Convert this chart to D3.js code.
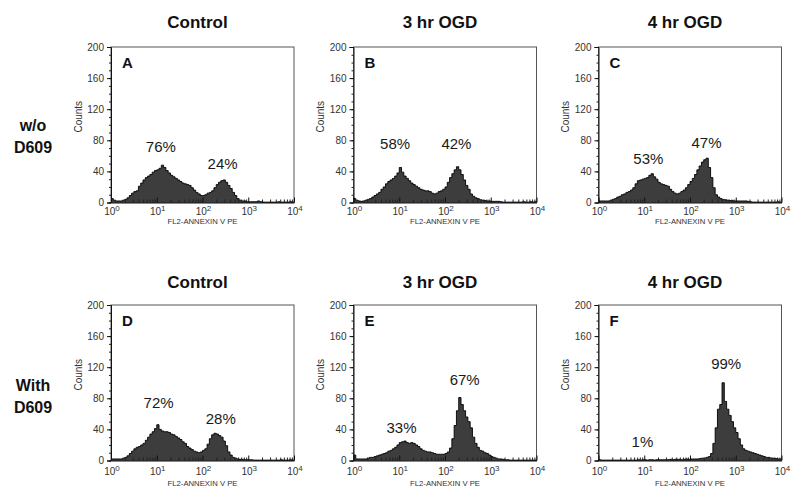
<!DOCTYPE html>
<html>
<head>
<meta charset="utf-8">
<script src="https://cdn.jsdelivr.net/npm/d3@7"></script>
<style>
  html, body { margin: 0; padding: 0; background: #fff; }
  svg { display: block; font-family: "Liberation Sans", Arial, Helvetica, sans-serif; }
</style>
</head>
<body>
<svg id="chart" width="800" height="499"></svg>
<script>
// ---------- data ----------
const panelLetters = ["A", "B", "C", "D", "E", "F"];
const panelTitles = ["Control", "3 hr OGD", "4 hr OGD", "Control", "3 hr OGD", "4 hr OGD"];
const rowLabels = [["w/o", "D609"], ["With", "D609"]];
const yTicks = [0, 40, 80, 120, 160, 200];
const xTickExponents = [0, 1, 2, 3, 4];
const xAxisTitle = "FL2-ANNEXIN V PE";
const yAxisTitle = "Counts";
const binsPerDecade = 20; // histogram channels, log-spaced from 10^0 to 10^4

const countsA = [5,3,2,2,2,3,4,6,9,12, 14,15,21,25,29,32,34,36,39,41, 42,44,48,45,41,38,35,33,31,29,
  27,25,24,23,22,19,16,13,11,9, 9,10,12,13,15,19,23,26,28,29, 26,22,18,13,9,5,3,2,2,1,
  1,1,1,1,2,1,0.5,0.5,0.5,0.5, 0.5,0.5,0.5,1,0.5,0.5,0.5,0.5,1,0.5];
const countsB = [5,3,2,1.5,2,3,4,5,7,9, 11,13,17,20,24,27,29,31,34,38, 45,39,34,31,28,25,23,21,19,17,
  16,15,15,14,12,11,12,14,15,17, 20,26,32,37,42,46,42,36,29,22, 17,11,8,6,5,3.5,3,2.5,2,2,
  1.5,1.5,1.5,1.5,1,0.5,0.5,0.5,0.5,0.5, 0.5,0.5,0.5,0.5,1,0.5,0.5,1,0.5,1];
const countsC = [2,2,2,2,2,3,4,5,7,8, 10,11,13,14,16,19,24,28,29,30, 31,32,35,37,33,30,26,24,23,22,
  21,17,14,12,11,12,14,16,19,23, 27,31,36,42,47,52,55,57,45,32, 19,10,7,5,4,3.5,3,2.5,2.5,2,
  2,2,2,2,2,1.5,1,0.5,0.5,0.5, 0.5,0.5,0.5,0.5,0.5,0.5,0.5,0.5,1,0.5];
const countsD = [2,2,2,2,2,3,4,6,9,12, 15,17,18,20,22,26,30,34,37,41, 46,40,38,37,37,36,34,33,31,29,
  27,24,22,18,16,14,12,11,10,11, 13,15,21,28,33,35,34,32,30,25, 19,11,7,4,3,2,1.5,1.5,1,1,
  1,1,0.5,0.5,0.5,0.5,0.5,0.5,0.5,0.5, 0.5,0.5,0.5,0.5,1,0.5,0.5,0.5,1,0.5];
const countsE = [7,2,2,2,2,2,3,4,4,5, 6,7,8,9,10,12,13,15,17,20, 23,24,25,23,22,23,22,20,18,15,
  13,12,11,11,10,9,8,8,8,8, 9,11,16,28,45,64,81,72,64,56, 50,42,30,22,17,13,12,10,9,7,
  5,4,3,2,2,1.5,1,1,0.5,0.5, 0.5,0.5,0.5,0.5,0.5,0.5,0.5,0.5,0.5,0.5];
const countsF = [1,0.5,0.5,0.5,0.5,0.5,0.5,0.5,0.5,0.5, 0.5,0.5,0.5,0.5,0.5,0.5,0.5,1,0.5,1, 1,0.5,1,1,0.5,1,1,1,1,1,
  1,1.5,1,1.5,1.5,1.5,1,1.5,2,1.5, 2,2,2,2,2.5,3,3,4,5,9, 22,42,66,72,100,76,66,58,50,42,
  36,28,20,15,13,12,11,10,9,8, 7,6,5,4,4,3,3,2.5,2,2];

// percent annotations: [text, log10 intensity, counts]
const pctA = [["76%", 1.09, 71], ["24%", 2.44, 49]];
const pctB = [["58%", 0.91, 75], ["42%", 2.25, 75]];
const pctC = [["53%", 1.09, 56], ["47%", 2.36, 76]];
const pctD = [["72%", 1.04, 74], ["28%", 2.40, 53]];
const pctE = [["33%", 1.05, 42], ["67%", 2.43, 104]];
const pctF = [["1%", 0.96, 24], ["99%", 2.79, 124]];

const allCounts = [countsA, countsB, countsC, countsD, countsE, countsF];
const allPct = [pctA, pctB, pctC, pctD, pctE, pctF];

// ---------- layout ----------
const colLeft = [111, 353.5, 598.5];
const rowTop = [47, 305];
const plotW = 183, plotH = 155.5;
const tickLabelOffset = [12.5, 14.5];
const xTitleOffset = [21.5, 25];
const titleBaseline = [28, 288];

const svg = d3.select("#chart");

// row labels
rowLabels.forEach((lines, r) => {
  const base = r === 0 ? 131 : 391;
  const t = svg.append("text")
    .attr("text-anchor", "middle")
    .attr("font-size", 16).attr("font-weight", "bold").attr("fill", "#111");
  lines.forEach((l, i) => {
    t.append("tspan").attr("x", 33).attr("y", base + i * 22).text(l);
  });
});

panelLetters.forEach((letter, i) => {
  const r = Math.floor(i / 3), c = i % 3;
  const left = colLeft[c], top = rowTop[r];
  const g = svg.append("g").attr("transform", `translate(${left},${top})`);

  const x = d3.scaleLog().domain([1, 1e4]).range([0, plotW]);
  const y = d3.scaleLinear().domain([0, 200]).range([plotH, 0]);

  // title
  svg.append("text")
    .attr("x", left + plotW / 2 - 5).attr("y", titleBaseline[r])
    .attr("text-anchor", "middle")
    .attr("font-size", 17).attr("font-weight", "bold").attr("fill", "#111")
    .text(panelTitles[i]);

  // frame
  g.append("rect").attr("x", 0).attr("y", 0).attr("width", plotW).attr("height", plotH)
    .attr("fill", "none").attr("stroke", "#555").attr("stroke-width", 1);

  // histogram
  const counts = allCounts[i];
  const pts = counts.map((v, k) => ({ e: k / binsPerDecade, v }));
  pts.push({ e: counts.length / binsPerDecade, v: counts[counts.length - 1] });
  const area = d3.area()
    .x(d => x(Math.pow(10, d.e)))
    .y0(y(0)).y1(d => y(d.v))
    .curve(d3.curveStepAfter);
  const line = d3.line()
    .x(d => x(Math.pow(10, d.e)))
    .y(d => y(d.v))
    .curve(d3.curveStepAfter);
  g.append("path").datum(pts).attr("d", area).attr("fill", "#3d3d3d");
  g.append("path").datum(pts).attr("d", line).attr("fill", "none")
    .attr("stroke", "#000").attr("stroke-width", 0.9);

  // y axis (major + minor)
  const yMinor = d3.range(0, 201, 10);
  g.append("g").call(d3.axisLeft(y).tickValues(yMinor).tickSize(2).tickFormat(""))
    .call(s => s.select(".domain").remove())
    .selectAll("line").attr("stroke", "#222");
  const ya = g.append("g").call(d3.axisLeft(y).tickValues(yTicks).tickSize(4).tickPadding(3));
  ya.select(".domain").attr("stroke", "#111");
  ya.selectAll("line").attr("stroke", "#111");
  ya.selectAll("text").attr("font-size", 10).attr("fill", "#333")
    .attr("font-family", "'Liberation Sans', Arial, sans-serif");

  // x axis
  const xMajor = xTickExponents.map(e => Math.pow(10, e));
  const xMinor = [];
  for (let d = 0; d < 4; d++) for (let m = 2; m <= 9; m++) xMinor.push(m * Math.pow(10, d));
  g.append("g").attr("transform", `translate(0,${plotH})`)
    .call(d3.axisBottom(x).tickValues(xMinor).tickSizeInner(-3).tickSizeOuter(0).tickFormat(""))
    .call(s => s.select(".domain").remove())
    .selectAll("line").attr("stroke", "#222");
  const xa = g.append("g").attr("transform", `translate(0,${plotH})`)
    .call(d3.axisBottom(x).tickValues(xMajor).tickSizeInner(-5).tickSizeOuter(0).tickFormat(""));
  xa.select(".domain").attr("stroke", "#111");
  xa.selectAll("line").attr("stroke", "#111");

  // x tick labels with superscripts
  xTickExponents.forEach(e => {
    const t = g.append("text")
      .attr("x", x(Math.pow(10, e)) + 1).attr("y", plotH + tickLabelOffset[r])
      .attr("text-anchor", "middle").attr("fill", "#333").attr("font-size", 10);
    t.append("tspan").text("10");
    t.append("tspan").attr("font-size", 8).attr("dy", -4).text(e);
  });

  // axis titles
  g.append("text")
    .attr("x", plotW / 2).attr("y", plotH + xTitleOffset[r])
    .attr("text-anchor", "middle").attr("font-size", 8).attr("fill", "#333")
    .attr("textLength", 70).attr("lengthAdjust", "spacingAndGlyphs")
    .text(xAxisTitle);
  g.append("text")
    .attr("transform", `translate(${-33 + 3.5},${plotH / 2 - 8}) rotate(-90)`)
    .attr("text-anchor", "middle").attr("font-size", 10).attr("fill", "#333")
    .text(yAxisTitle);

  // panel letter
  g.append("text").attr("x", 11).attr("y", 21)
    .attr("font-size", 15).attr("font-weight", "bold").attr("fill", "#111")
    .text(letter);

  // percent labels
  allPct[i].forEach(([txt, e, v]) => {
    g.append("text")
      .attr("x", x(Math.pow(10, e))).attr("y", y(v) + 5)
      .attr("text-anchor", "middle").attr("font-size", 15).attr("fill", "#1a1a1a")
      .text(txt);
  });
});
</script>
</body>
</html>
